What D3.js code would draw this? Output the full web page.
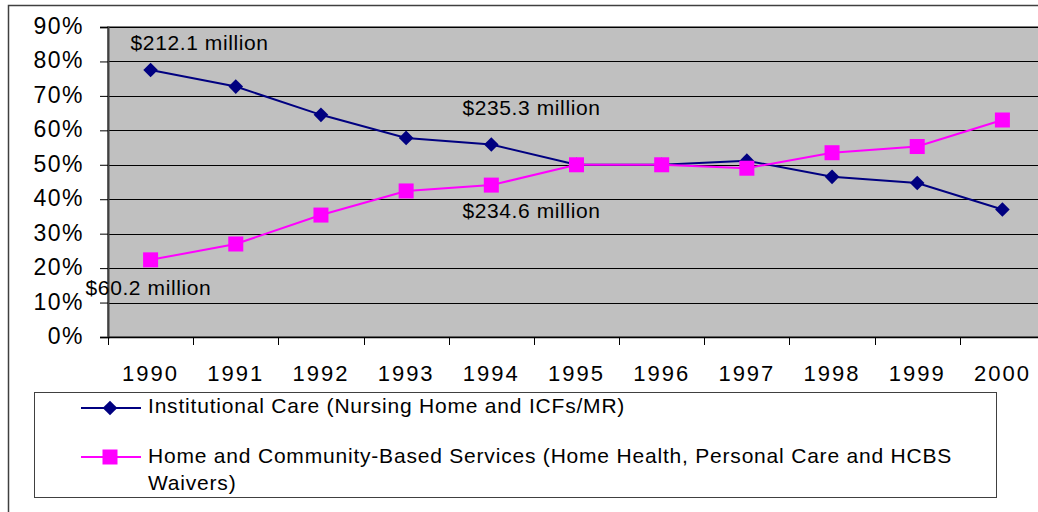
<!DOCTYPE html>
<html lang="en">
<head>
<meta charset="utf-8">
<title>Institutional vs home and community-based care</title>
<script src="https://cdn.jsdelivr.net/npm/d3@7"></script>
<style>
  body { margin: 0; background: #fff; }
  text { font-family: "Liberation Sans", Arial, sans-serif; fill: #000; }
</style>
</head>
<body>
<script>
// share of long-term care spending, by year
var years = ["1990","1991","1992","1993","1994","1995","1996","1997","1998","1999","2000"];
var institutional = [0.775, 0.727, 0.645, 0.578, 0.559, 0.50, 0.50, 0.512, 0.465, 0.447, 0.370];
var homeCommunity = [0.224, 0.270, 0.354, 0.424, 0.441, 0.50, 0.50, 0.490, 0.535, 0.553, 0.630];
var yTicks = [0, 0.1, 0.2, 0.3, 0.4, 0.5, 0.6, 0.7, 0.8, 0.9];
var seriesNames = [
  "Institutional Care (Nursing Home and ICFs/MR)",
  ["Home and Community-Based Services (Home Health, Personal Care and HCBS", "Waivers)"]
];
// dollar labels next to the points
var notes = [
  {text: "$212.1 million", year: "1990", value: 0.775, dx: -20, dy: -20},
  {text: "$60.2 million",  year: "1990", value: 0.224, dx: -65, dy: 35},
  {text: "$235.3 million", year: "1995", value: 0.50,  dx: -114, dy: -50},
  {text: "$234.6 million", year: "1995", value: 0.50,  dx: -114, dy: 53}
];

var width = 1038, height = 512;
var plot = {left: 108, top: 27, right: 1045, bottom: 337};

var svg = d3.select("body").append("svg")
    .attr("width", width)
    .attr("height", height);

var x = d3.scaleBand().domain(years).range([plot.left, plot.right]).padding(0);
var y = d3.scaleLinear().domain([0, 0.9]).range([plot.bottom, plot.top]);
var cx = function(yr) { return x(yr) + x.bandwidth() / 2; };

// Excel-style diamond marker
var diamond = "M0,-7.3L7.3,0L0,7.3L-7.3,0Z";

// outer chart border (runs off the right and bottom of the picture)
svg.append("rect")
    .attr("x", 8.5).attr("y", 5.5)
    .attr("width", 1045).attr("height", 530)
    .attr("fill", "#fff")
    .attr("stroke", "#404040")
    .attr("stroke-width", 1.5);

// plot area
svg.append("rect")
    .attr("x", plot.left).attr("y", plot.top)
    .attr("width", plot.right - plot.left).attr("height", plot.bottom - plot.top)
    .attr("fill", "#c0c0c0")
    .attr("stroke", "#808080")
    .attr("stroke-width", 2);

// gridlines
svg.append("g")
    .selectAll("line")
    .data(yTicks.slice(1))
    .enter().append("line")
      .attr("x1", plot.left).attr("x2", plot.right)
      .attr("y1", function(d) { return Math.round(y(d)) + 0.5; })
      .attr("y2", function(d) { return Math.round(y(d)) + 0.5; })
      .attr("stroke", "#000")
      .attr("stroke-width", 1);

// y axis
var yAxis = svg.append("g")
    .attr("transform", "translate(" + plot.left + ",0)")
    .call(d3.axisLeft(y).tickValues(yTicks).tickFormat(d3.format(".0%")).tickSize(8).tickPadding(16));
yAxis.select(".domain").attr("stroke", "#404040").attr("stroke-width", 2);
yAxis.selectAll(".tick line").attr("stroke", "#000");
yAxis.selectAll(".tick text")
    .attr("font-size", 23)
    .attr("font-family", "Liberation Sans, Arial, sans-serif")
    .attr("letter-spacing", "1.5px")
    .attr("dy", "0.28em");

// x axis
var xAxis = svg.append("g")
    .attr("transform", "translate(0," + plot.bottom + ")")
    .call(d3.axisBottom(x).tickSize(0).tickPadding(28));
xAxis.select(".domain").attr("stroke", "#000").attr("stroke-width", 1.5);
xAxis.selectAll(".tick text")
    .attr("font-size", 22)
    .attr("font-family", "Liberation Sans, Arial, sans-serif")
    .attr("letter-spacing", "2px");
// category boundary ticks
xAxis.append("g")
    .selectAll("line")
    .data(years)
    .enter().append("line")
      .attr("x1", function(d) { return Math.round(x(d)) + 0.5; })
      .attr("x2", function(d) { return Math.round(x(d)) + 0.5; })
      .attr("y1", 0).attr("y2", 8)
      .attr("stroke", "#000");

var line = d3.line()
    .x(function(d, i) { return cx(years[i]); })
    .y(function(d) { return y(d); });

// institutional care series
svg.append("path")
    .datum(institutional)
    .attr("d", line)
    .attr("fill", "none")
    .attr("stroke", "#000080")
    .attr("stroke-width", 2);
svg.append("g")
    .selectAll("path")
    .data(institutional)
    .enter().append("path")
      .attr("d", diamond)
      .attr("transform", function(d, i) { return "translate(" + cx(years[i]) + "," + y(d) + ")"; })
      .attr("fill", "#000080");

// home and community-based series
svg.append("path")
    .datum(homeCommunity)
    .attr("d", line)
    .attr("fill", "none")
    .attr("stroke", "#ff00ff")
    .attr("stroke-width", 2);
svg.append("g")
    .selectAll("rect")
    .data(homeCommunity)
    .enter().append("rect")
      .attr("x", function(d, i) { return cx(years[i]) - 7.5; })
      .attr("y", function(d) { return y(d) - 7.5; })
      .attr("width", 15).attr("height", 15)
      .attr("fill", "#ff00ff");

// dollar annotations
svg.append("g")
    .selectAll("text")
    .data(notes)
    .enter().append("text")
      .attr("x", function(d) { return cx(d.year) + d.dx; })
      .attr("y", function(d) { return y(d.value) + d.dy; })
      .attr("font-size", 21)
      .attr("letter-spacing", "0.6px")
      .text(function(d) { return d.text; });

// legend
var legend = svg.append("g");
legend.append("rect")
    .attr("x", 34.5).attr("y", 392.5)
    .attr("width", 962).attr("height", 105)
    .attr("fill", "#fff")
    .attr("stroke", "#404040")
    .attr("stroke-width", 1);

legend.append("line")
    .attr("x1", 81).attr("x2", 141).attr("y1", 408).attr("y2", 408)
    .attr("stroke", "#000080").attr("stroke-width", 2);
legend.append("path")
    .attr("d", diamond)
    .attr("transform", "translate(110,408)")
    .attr("fill", "#000080");
legend.append("text")
    .attr("x", 148).attr("y", 413)
    .attr("font-size", 21)
    .attr("letter-spacing", "0.8px")
    .text(seriesNames[0]);

legend.append("line")
    .attr("x1", 81).attr("x2", 141).attr("y1", 457).attr("y2", 457)
    .attr("stroke", "#ff00ff").attr("stroke-width", 2);
legend.append("rect")
    .attr("x", 102.5).attr("y", 449.5).attr("width", 15).attr("height", 15)
    .attr("fill", "#ff00ff");
legend.append("text")
    .attr("x", 148).attr("y", 463)
    .attr("font-size", 21)
    .attr("letter-spacing", "0.8px")
    .selectAll("tspan")
    .data(seriesNames[1])
    .enter().append("tspan")
      .attr("x", 148)
      .attr("dy", function(d, i) { return i === 0 ? 0 : 27; })
      .text(function(d) { return d; });
</script>
</body>
</html>
